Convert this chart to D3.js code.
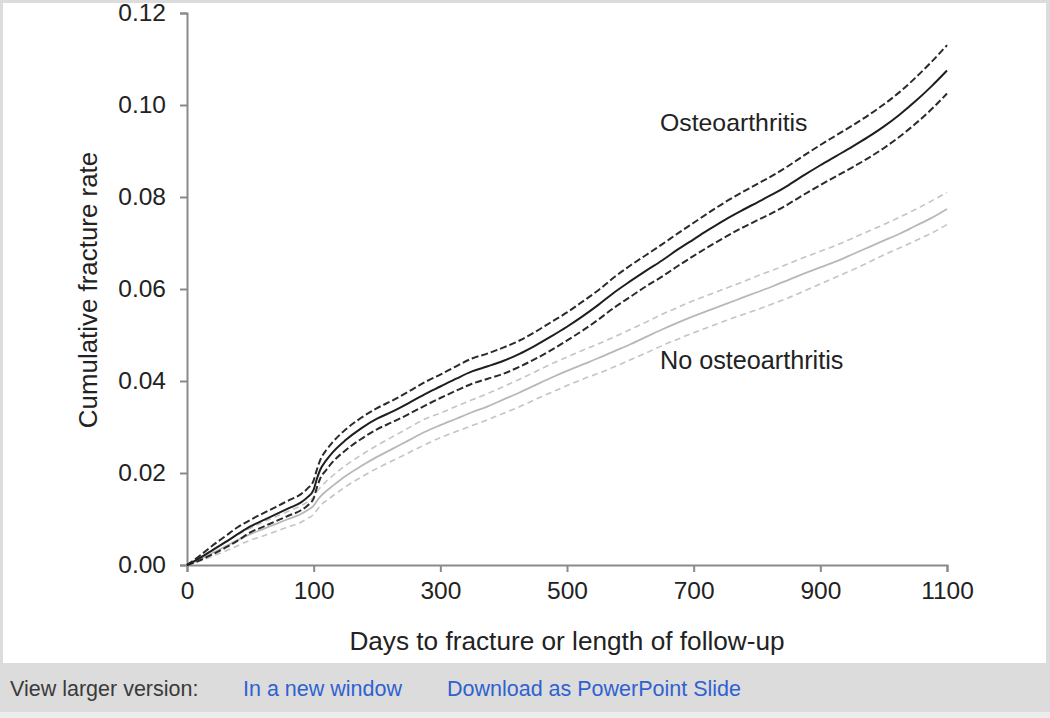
<!DOCTYPE html>
<html>
<head>
<meta charset="utf-8">
<script src="https://cdn.jsdelivr.net/npm/d3@7"></script>
<style>
  html, body { margin: 0; padding: 0; background: #ffffff; }
  svg { display: block; }
</style>
</head>
<body>
<svg id="chart" width="1050" height="718"></svg>
<script>
// ---- data ----
const days = [0,10,20,30,40,50,60,70,80,90,95,100,105,110,120,130,150,175,
  200,225,250,275,300,325,350,375,400,425,450,475,500,525,550,575,600,625,650,675,
  700,725,750,775,800,825,850,875,900,925,950,975,1000,1025,1050,1075,1100];

const oaRate = [0,.0015,.0032,.0049,.0067,.0084,.0097,.0110,.0123,.0136,.0147,.0164,.0187,.0206,.0228,.0245,.0271,.0297,
  .0318,.0334,.0352,.0371,.0388,.0405,.0421,.0432,.0444,.0459,.0477,.0497,.0518,.0541,.0566,.0593,.0617,.0640,.0662,.0686,
  .0708,.0730,.0751,.0770,.0788,.0806,.0826,.0848,.0869,.0889,.0909,.0930,.0953,.0979,.1008,.1040,.1075];
const oaUpper = [0,.0020,.0042,.0062,.0082,.0098,.0112,.0126,.0140,.0154,.0166,.0184,.0207,.0227,.0250,.0267,.0294,.0320,
  .0341,.0358,.0377,.0397,.0414,.0432,.0449,.0460,.0473,.0488,.0507,.0528,.0549,.0573,.0598,.0626,.0651,.0674,.0697,.0721,
  .0744,.0767,.0789,.0809,.0828,.0847,.0868,.0891,.0913,.0934,.0955,.0977,.1001,.1028,.1059,.1093,.1130];
const oaLower = [0,.0010,.0023,.0037,.0053,.0071,.0083,.0095,.0107,.0119,.0129,.0145,.0168,.0187,.0207,.0224,.0249,.0274,
  .0295,.0311,.0328,.0346,.0363,.0379,.0394,.0405,.0416,.0431,.0448,.0467,.0488,.0510,.0534,.0560,.0583,.0606,.0627,.0650,
  .0672,.0693,.0713,.0732,.0749,.0766,.0785,.0806,.0826,.0845,.0864,.0884,.0906,.0931,.0959,.0990,.1025];

const noRate = [0,.0012,.0026,.0040,.0054,.0067,.0078,.0089,.0100,.0111,.0119,.0129,.0139,.0148,.0161,.0172,.0193,.0215,
  .0235,.0253,.0271,.0289,.0304,.0318,.0332,.0345,.0360,.0375,.0391,.0407,.0422,.0436,.0450,.0465,.0480,.0496,.0512,.0527,
  .0541,.0554,.0567,.0580,.0593,.0606,.0620,.0634,.0647,.0660,.0675,.0690,.0705,.0720,.0737,.0754,.0774];
const noUpper = [0,.0016,.0033,.0050,.0066,.0080,.0093,.0105,.0117,.0129,.0137,.0148,.0159,.0168,.0182,.0194,.0216,.0239,
  .0260,.0279,.0298,.0317,.0330,.0345,.0359,.0373,.0388,.0404,.0420,.0437,.0452,.0467,.0481,.0496,.0512,.0528,.0545,.0560,
  .0575,.0588,.0601,.0614,.0628,.0641,.0655,.0669,.0682,.0695,.0710,.0725,.0740,.0756,.0773,.0791,.0810];
const noLower = [0,.0008,.0019,.0030,.0042,.0054,.0063,.0073,.0083,.0093,.0101,.0110,.0119,.0128,.0140,.0150,.0170,.0191,
  .0210,.0227,.0244,.0261,.0277,.0290,.0303,.0316,.0330,.0344,.0360,.0375,.0390,.0404,.0417,.0431,.0446,.0461,.0477,.0491,
  .0505,.0518,.0531,.0543,.0555,.0568,.0581,.0596,.0611,.0626,.0641,.0657,.0674,.0689,.0705,.0721,.0740];

const xTickValues = [0,100,300,500,700,900,1100];
const yTickValues = [0,0.02,0.04,0.06,0.08,0.10,0.12];

// ---- drawing ----
const svg = d3.select("#chart");
const font = "'Liberation Sans', Arial, sans-serif";

// page frame
svg.append("rect").attr("x",0).attr("y",0).attr("width",1050).attr("height",718).attr("fill","#dcdcdc");
svg.append("rect").attr("x",3).attr("y",3).attr("width",1043).attr("height",660).attr("fill","#ffffff");
svg.append("rect").attr("x",0).attr("y",712).attr("width",1050).attr("height",6).attr("fill","#ececec");

const x = d3.scaleLinear().domain([0,100,1100]).range([187, 313.67, 947]);
const y = d3.scaleLinear().domain([0,0.12]).range([565, 13]);

// axes
const yAxis = d3.axisLeft(y).tickValues(yTickValues).tickSize(7).tickPadding(14)
  .tickFormat(d3.format(".2f"));
const xAxis = d3.axisBottom(x).tickValues(xTickValues).tickSize(7).tickPadding(10)
  .tickFormat(d3.format("d"));

const gy = svg.append("g").attr("transform","translate(187,0)").call(yAxis);
const gx = svg.append("g").attr("transform","translate(0,565)").call(xAxis);
[gx, gy].forEach(g => {
  g.select(".domain").attr("stroke","#8a8a8a").attr("stroke-width",2);
  g.selectAll(".tick line").attr("stroke","#8a8a8a").attr("stroke-width",2);
  g.selectAll(".tick text").attr("fill","#222").style("font-family",font).style("font-size","24.5px");
});

// lines
function mk(vals){ return days.map((d,i)=>({d:d,v:vals[i]})); }
const line = d3.line().x(p=>x(p.d)).y(p=>y(p.v)).curve(d3.curveMonotoneX);

const series = [
  {vals:noUpper, color:"#c4c4c4", w:1.6, dash:"6,4"},
  {vals:noLower, color:"#c4c4c4", w:1.6, dash:"6,4"},
  {vals:noRate,  color:"#b8b8b8", w:1.8, dash:null},
  {vals:oaUpper, color:"#2a2a2a", w:2, dash:"7,3"},
  {vals:oaLower, color:"#2a2a2a", w:2, dash:"7,3"},
  {vals:oaRate,  color:"#1e1e1e", w:2, dash:null}
];
series.forEach(s=>{
  svg.append("path").datum(mk(s.vals)).attr("d",line)
    .attr("fill","none").attr("stroke",s.color).attr("stroke-width",s.w)
    .attr("stroke-dasharray",s.dash);
});

// annotations
svg.append("text").attr("x",660).attr("y",131).text("Osteoarthritis")
  .style("font-family",font).style("font-size","24.8px").attr("fill","#222");
svg.append("text").attr("x",660).attr("y",369).text("No osteoarthritis")
  .style("font-family",font).style("font-size","25.2px").attr("fill","#222");

// axis titles
svg.append("text").attr("x",567).attr("y",650).attr("text-anchor","middle")
  .text("Days to fracture or length of follow-up")
  .style("font-family",font).style("font-size","26.2px").attr("fill","#222");
svg.append("text").attr("transform","translate(97,290) rotate(-90)").attr("text-anchor","middle")
  .text("Cumulative fracture rate")
  .style("font-family",font).style("font-size","25.9px").attr("fill","#222");

// footer
svg.append("text").attr("x",10).attr("y",696).text("View larger version:")
  .style("font-family",font).style("font-size","21.5px").attr("fill","#3a3a3a");
svg.append("text").attr("x",243).attr("y",696).text("In a new window")
  .style("font-family",font).style("font-size","21.5px").attr("fill","#2f62d0");
svg.append("text").attr("x",447).attr("y",696).text("Download as PowerPoint Slide")
  .style("font-family",font).style("font-size","21.5px").attr("fill","#2f62d0");
</script>
</body>
</html>
